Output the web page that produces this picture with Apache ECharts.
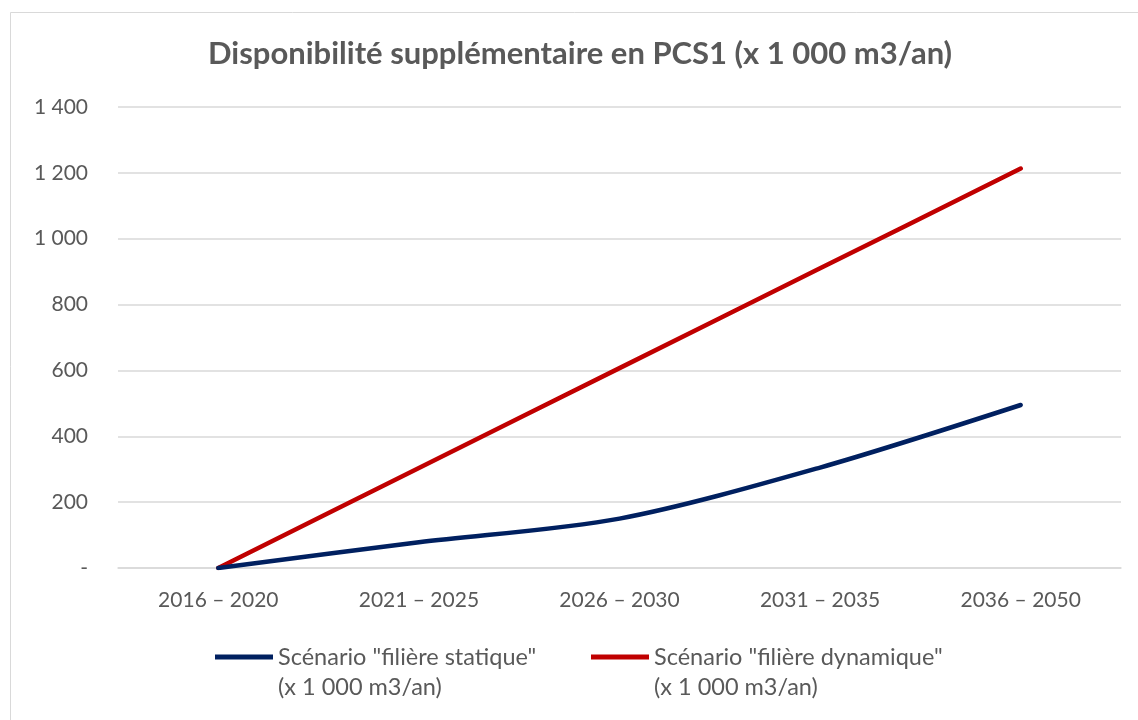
<!DOCTYPE html>
<html lang="fr">
<head>
<meta charset="utf-8">
<title>Disponibilité supplémentaire en PCS1</title>
<script src="https://cdn.jsdelivr.net/npm/echarts@6/dist/echarts.min.js"></script>
<style>
  html, body { margin: 0; padding: 0; background: #ffffff; }
  #chart { width: 1138px; height: 720px; }
</style>
</head>
<body>
<div id="chart"></div>
<script>
// Périodes (axe des abscisses)
const categories = ['2016 – 2020', '2021 – 2025', '2026 – 2030', '2031 – 2035', '2036 – 2050'];

// Disponibilité supplémentaire, en milliers de m3 par an
const staticValues = [0, 78, 150, 305, 495];
const dynamicValues = [0, 304, 607, 910, 1213];

const seriesNames = [
  'Scénario "filière statique"\n(x 1 000 m3/an)',
  'Scénario "filière dynamique"\n(x 1 000 m3/an)'
];

const titleText = 'Disponibilité supplémentaire en PCS1 (x 1 000 m3/an)';

const FONT = 'Lato, "Open Sans", sans-serif';
const GREY = '#595959';

// 1 200 style, with a dash for zero
function formatThousands(v) {
  if (v === 0) return '-';
  return String(v).replace(/\B(?=(\d{3})+(?!\d))/g, ' ');
}

// Legend key: a thick bar sitting at the top of a taller box, so that it
// lines up with the first line of the two-line label
const legendIcon = 'path://M0,0 L58,0 L58,5 L0,5 Z M0,35';

const chart = echarts.init(document.getElementById('chart'), null, { renderer: 'canvas' });

function legendFor(name, left) {
  return {
    data: [name],
    left: left,
    top: 642,
    padding: 0,
    icon: legendIcon,
    itemWidth: 58,
    itemHeight: 35,
    itemGap: 0,
    textStyle: { color: GREY, fontFamily: FONT, fontSize: 23.5, lineHeight: 30 }
  };
}

chart.setOption({
  animation: false,
  backgroundColor: '#ffffff',
  textStyle: { fontFamily: FONT },
  graphic: [{
    type: 'rect',
    left: 8,
    top: 10,
    shape: { width: 1140, height: 720 },
    style: { fill: 'none', stroke: '#d9d9d9', lineWidth: 1 },
    silent: true,
    z: -10
  }],
  title: {
    text: titleText,
    left: 203,
    top: 33,
    textStyle: { color: GREY, fontFamily: FONT, fontWeight: 'bold', fontSize: 31 }
  },
  grid: { left: 118, right: 17, top: 107, bottom: 152, containLabel: false },
  legend: [
    legendFor(seriesNames[0], 215),
    legendFor(seriesNames[1], 591)
  ],
  xAxis: {
    type: 'category',
    data: categories,
    boundaryGap: true,
    axisLine: { show: true, lineStyle: { color: '#d9d9d9', width: 1.5 } },
    axisTick: { show: false },
    axisLabel: { interval: 0, color: GREY, fontFamily: FONT, fontSize: 21, margin: 22 }
  },
  yAxis: {
    type: 'value',
    min: 0,
    max: 1400,
    interval: 200,
    axisLine: { show: false },
    axisTick: { show: false },
    splitLine: { lineStyle: { color: '#d9d9d9', width: 1.5 } },
    axisLabel: { color: GREY, fontFamily: FONT, fontSize: 21, margin: 30, formatter: formatThousands }
  },
  series: [
    {
      name: seriesNames[0],
      type: 'line',
      data: staticValues,
      smooth: 0.3,
      symbol: 'none',
      color: '#002060',
      lineStyle: { color: '#002060', width: 4.5, cap: 'round' },
      z: 3
    },
    {
      name: seriesNames[1],
      type: 'line',
      data: dynamicValues,
      smooth: 0.3,
      symbol: 'none',
      color: '#c00000',
      lineStyle: { color: '#c00000', width: 4.5, cap: 'round' },
      z: 2
    }
  ]
});
</script>
</body>
</html>
